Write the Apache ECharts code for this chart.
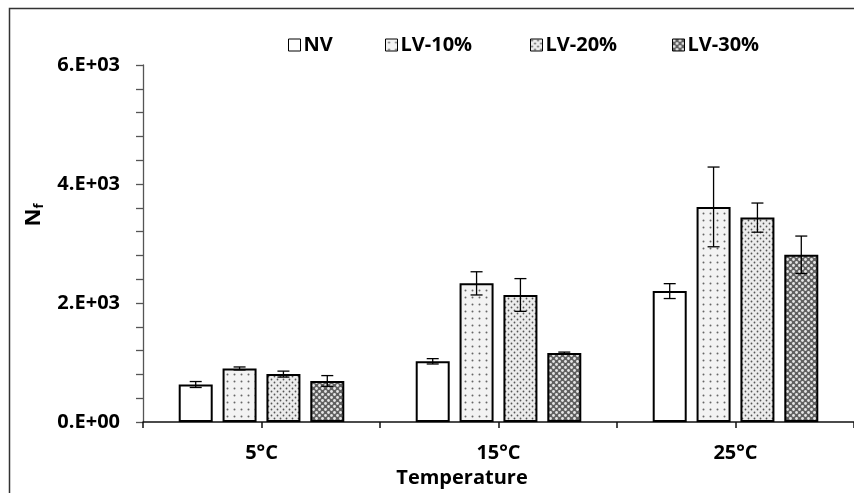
<!DOCTYPE html>
<html>
<head>
<meta charset="utf-8">
<script src="https://cdn.jsdelivr.net/npm/echarts@6/dist/echarts.min.js"></script>
<style>
  html, body { margin: 0; padding: 0; background: #fff; }
  #chart { width: 854px; height: 493px; }
</style>
</head>
<body>
<div id="chart"></div>
<script>
// Fatigue life N_f by temperature and binder type
const categories = ['5°C', '15°C', '25°C'];
const seriesNames = ['NV', 'LV-10%', 'LV-20%', 'LV-30%'];
const nvMean   = [630, 1020, 2200];
const nvErr    = [50, 45, 125];
const lv10Mean = [900, 2330, 3615];
const lv10Err  = [25, 195, 670];
const lv20Mean = [805, 2135, 3435];
const lv20Err  = [50, 275, 245];
const lv30Mean = [690, 1160, 2810];
const lv30Err  = [90, 15, 315];
const yTickLabels = ['0.E+00', '2.E+03', '4.E+03', '6.E+03'];

const FONT = 'Open Sans';
const FS = 20;
const BAR_WIDTH = 34;
const BAR_GAP = 0.29;
const BAR_STEP = BAR_WIDTH * (1 + BAR_GAP);
const LEGEND_LEFT = [288, 385, 530, 672];

// Fill patterns drawn on small tiles
function makeTile(size, bg, dots, dotColor, r) {
  const c = document.createElement('canvas');
  c.width = size; c.height = size;
  const g = c.getContext('2d');
  g.fillStyle = bg;
  g.fillRect(0, 0, size, size);
  g.fillStyle = dotColor;
  dots.forEach(([x, y]) => {
    g.beginPath();
    g.arc(x, y, r, 0, Math.PI * 2);
    g.fill();
  });
  return { image: c, repeat: 'repeat' };
}
const fills = [
  '#ffffff',
  makeTile(7, '#f3f3f3', [[3.5, 3.5]], '#666', 1.0),
  makeTile(6, '#ececec', [[1.5, 1.5], [4.5, 4.5]], '#555', 0.9),
  makeTile(6, '#606060', [[1.5, 1.5], [4.5, 4.5]], '#e6e6e6', 1.4)
];

const means = [nvMean, lv10Mean, lv20Mean, lv30Mean];
const errs = [nvErr, lv10Err, lv20Err, lv30Err];

const barSeries = seriesNames.map((name, k) => ({
  name: name,
  type: 'bar',
  data: means[k],
  barWidth: BAR_WIDTH,
  barGap: (BAR_GAP * 100) + '%',
  itemStyle: { color: fills[k], borderColor: '#000', borderWidth: 2 },
  z: 2
}));

const errorSeries = seriesNames.map((name, k) => ({
  type: 'custom',
  silent: true,
  z: 10,
  data: means[k].map((m, i) => [i, m - errs[k][i], m + errs[k][i]]),
  encode: { x: 0, y: [1, 2] },
  renderItem: function (params, api) {
    const lo = api.coord([api.value(0), api.value(1)]);
    const hi = api.coord([api.value(0), api.value(2)]);
    const x = lo[0] + (k - 1.5) * BAR_STEP;
    const cap = 6;
    const style = { stroke: '#000', lineWidth: 1.3 };
    return {
      type: 'group',
      children: [
        { type: 'line', shape: { x1: x, y1: lo[1], x2: x, y2: hi[1] }, style: style },
        { type: 'line', shape: { x1: x - cap, y1: lo[1], x2: x + cap, y2: lo[1] }, style: style },
        { type: 'line', shape: { x1: x - cap, y1: hi[1], x2: x + cap, y2: hi[1] }, style: style }
      ]
    };
  }
}));

// one legend entry per series, spread across the top
const legends = seriesNames.map((name, k) => ({
  data: [name],
  left: LEGEND_LEFT[k],
  top: 35,
  padding: 0,
  itemWidth: 12,
  itemHeight: 12,
  icon: 'rect',
  itemStyle: { borderColor: '#000', borderWidth: 1 },
  textStyle: { fontFamily: FONT, fontWeight: 'bold', fontSize: FS, color: '#000', padding: [0, 0, 0, -2] }
}));

const chart = echarts.init(document.getElementById('chart'), null, { renderer: 'canvas' });
chart.setOption({
  animation: false,
  backgroundColor: '#fff',
  textStyle: { fontFamily: FONT },
  grid: { left: 143, top: 65, width: 720, height: 357, containLabel: false },
  legend: legends,
  xAxis: [
    {
      type: 'category',
      data: categories,
      axisLine: { lineStyle: { color: '#111', width: 1.5 } },
      axisTick: { show: false },
      axisLabel: { fontFamily: FONT, fontWeight: 'bold', fontSize: FS, color: '#000', margin: 21 }
    },
    {
      // tick marks every half category
      type: 'category',
      data: ['', '', '', '', '', ''],
      position: 'bottom',
      axisLine: { show: false },
      axisLabel: { show: false },
      axisTick: { show: true, length: 6, lineStyle: { color: '#111', width: 1.5 } }
    }
  ],
  yAxis: {
    type: 'value',
    min: 0,
    max: 6000,
    interval: 2000,
    splitLine: { show: false },
    axisLine: { show: true, lineStyle: { color: '#555', width: 1.3 } },
    axisTick: { show: true, length: 7, lineStyle: { color: '#555', width: 1.3 } },
    minorTick: { show: true, splitNumber: 5, length: 7, lineStyle: { color: '#555', width: 1.3 } },
    axisLabel: {
      fontFamily: FONT, fontWeight: 'bold', fontSize: FS, color: '#000', margin: 23,
      formatter: function (v) { return yTickLabels[Math.round(v / 2000)]; }
    }
  },
  graphic: [
    {
      type: 'rect',
      shape: { x: 9.5, y: 8.5, width: 900, height: 600 },
      style: { fill: 'none', stroke: '#333', lineWidth: 1.5 },
      silent: true, z: -10
    },
    {
      type: 'text',
      x: 462, y: 478,
      style: {
        text: 'Temperature', fontFamily: FONT, fontWeight: 'bold', fontSize: FS,
        fill: '#000', align: 'center', verticalAlign: 'middle'
      }
    },
    {
      type: 'text',
      x: 34, y: 215,
      rotation: Math.PI / 2,
      style: {
        text: '{n|N}{s|f}', align: 'center', verticalAlign: 'middle',
        rich: {
          n: { fontFamily: FONT, fontWeight: 'bold', fontSize: 22, fill: '#000' },
          s: { fontFamily: FONT, fontWeight: 'bold', fontSize: 13, fill: '#000', padding: [10, 0, 0, 0] }
        }
      }
    }
  ],
  series: barSeries.concat(errorSeries)
});
</script>
</body>
</html>
